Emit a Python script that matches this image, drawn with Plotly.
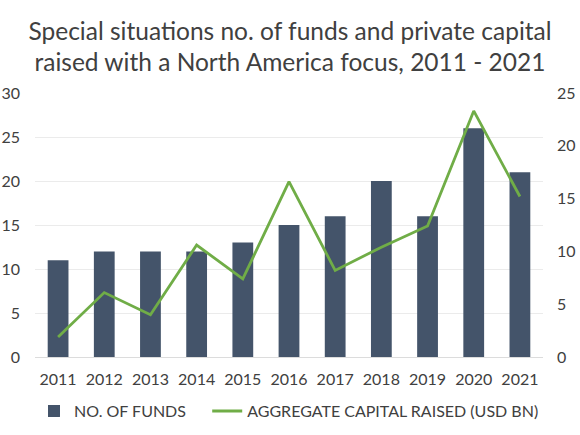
import plotly.graph_objects as go

years = ["2011", "2012", "2013", "2014", "2015", "2016", "2017", "2018", "2019", "2020", "2021"]
num_funds = [11, 12, 12, 12, 13, 15, 16, 20, 16, 26, 21]
capital_raised = [1.9, 6.1, 4.0, 10.6, 7.4, 16.6, 8.2, 10.4, 12.4, 23.3, 15.2]

FONT = "Lato"
TXT = "#404040"

fig = go.Figure()
fig.add_trace(go.Bar(
    x=years, y=num_funds, name="NO. OF FUNDS",
    marker=dict(color="#44546a", line=dict(width=0)),
    width=0.45, yaxis="y", legend="legend",
))
fig.add_trace(go.Scatter(
    x=years, y=capital_raised, name="AGGREGATE CAPITAL RAISED (USD BN)",
    mode="lines", line=dict(color="#70ad47", width=2.8), yaxis="y2", legend="legend2",
))

fig.update_layout(
    width=580, height=435,
    margin=dict(l=35, r=37, t=93, b=78),
    paper_bgcolor="white", plot_bgcolor="white",
    font=dict(family=FONT, color=TXT, size=16),
    title=dict(
        text="Special situations no. of funds and private capital<br>raised with a North America focus, 2011 - 2021",
        x=0.5, xanchor="center", y=0.909, yanchor="middle", yref="container",
        font=dict(family=FONT, size=24.5, color=TXT),
    ),
    xaxis=dict(showgrid=False, showline=False, ticks="", tickfont=dict(size=16, color=TXT),
               automargin=False, ticklabelstandoff=11),
    yaxis=dict(range=[0, 30], dtick=5, showgrid=True, gridcolor="#ebebeb", gridwidth=1,
               zeroline=True, zerolinecolor="#dcdcdc", zerolinewidth=1,
               showline=False, ticks="", tickfont=dict(size=16, color=TXT), ticklabelstandoff=14,
               automargin=False),
    yaxis2=dict(range=[0, 25], dtick=5, overlaying="y", side="right", showgrid=False,
                zeroline=False, showline=False, ticks="",
                tickfont=dict(size=16, color=TXT), ticklabelstandoff=13, automargin=False),
    legend=dict(orientation="h", x=-0.002, xanchor="left", y=0.055, yanchor="middle",
                yref="container", font=dict(size=16, color=TXT)),
    legend2=dict(orientation="h", x=0.339, xanchor="left", y=0.055, yanchor="middle",
                 yref="container", font=dict(size=16, color=TXT)),
    showlegend=True,
)

fig.write_html("out.html", post_script="document.body.style.margin='0';",
               config={"displayModeBar": False})
